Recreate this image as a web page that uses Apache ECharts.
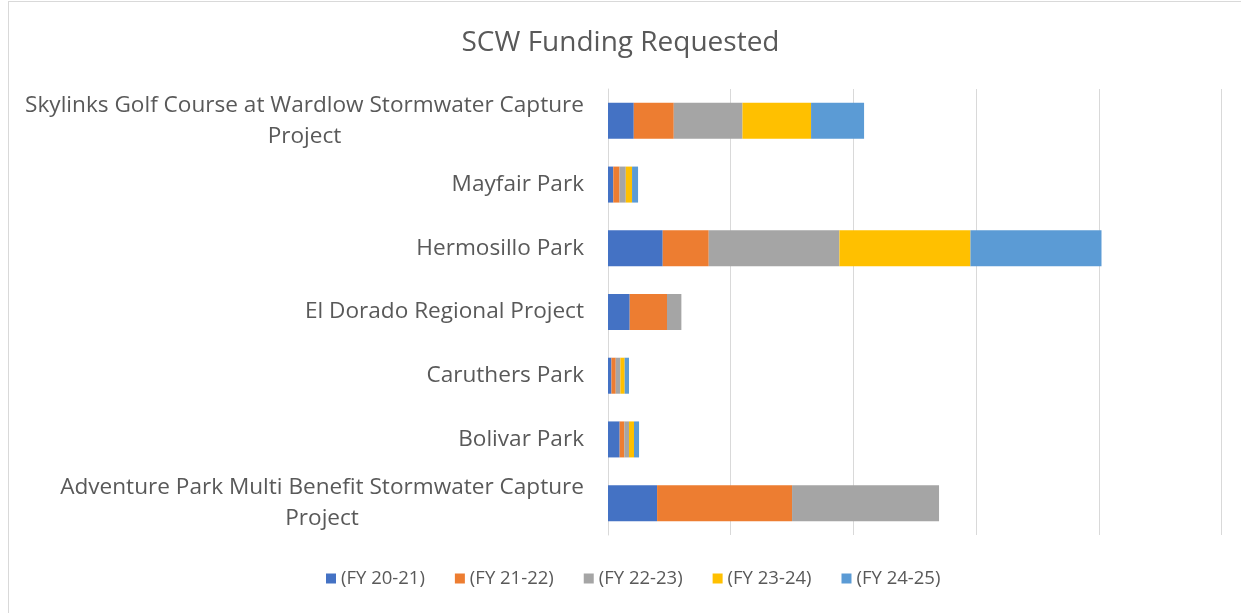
<!DOCTYPE html>
<html>
<head>
<meta charset="utf-8">
<script src="https://cdn.jsdelivr.net/npm/echarts@6/dist/echarts.min.js"></script>
<style>
html,body{margin:0;padding:0;background:#fff;}
#frame{position:absolute;left:8px;top:1px;right:0;bottom:0;border-left:1px solid #d9d9d9;border-top:1px solid #d9d9d9;}
#chart{position:absolute;left:0;top:0;width:1241px;height:613px;}
</style>
</head>
<body>
<div id="frame"></div>
<div id="chart"></div>
<script>
const categories = [
  'Adventure Park Multi Benefit Stormwater Capture Project',
  'Bolivar Park',
  'Caruthers Park',
  'El Dorado Regional Project',
  'Hermosillo Park',
  'Mayfair Park',
  'Skylinks Golf Course at Wardlow Stormwater Capture Project'
];
const seriesNames = ['(FY 20-21)', '(FY 21-22)', '(FY 22-23)', '(FY 23-24)', '(FY 24-25)'];
const fy2021 = [0.40, 0.095, 0.028, 0.177, 0.446, 0.043, 0.21];
const fy2122 = [1.10, 0.038, 0.035, 0.304, 0.375, 0.051, 0.326];
const fy2223 = [1.198, 0.038, 0.038, 0.117, 1.065, 0.051, 0.56];
const fy2324 = [0, 0.041, 0.035, 0, 1.068, 0.051, 0.559];
const fy2425 = [0, 0.041, 0.035, 0, 1.068, 0.049, 0.432];
const colors = ['#4472C4', '#ED7D31', '#A5A5A5', '#FFC000', '#5B9BD5'];

const allData = [fy2021, fy2122, fy2223, fy2324, fy2425];
const FONT = 'Open Sans';

const chart = echarts.init(document.getElementById('chart'));
chart.setOption({
  animation: false,
  textStyle: { fontFamily: FONT },
  title: {
    text: 'SCW Funding Requested',
    left: 'center',
    top: 24,
    textStyle: { fontFamily: FONT, fontSize: 28, fontWeight: 'normal', color: '#595959' }
  },
  legend: {
    bottom: 20,
    left: 321,
    itemWidth: 10,
    itemHeight: 10,
    itemGap: 30,
    icon: 'rect',
    textStyle: { fontFamily: FONT, fontSize: 18.5, color: '#595959' },
    data: seriesNames
  },
  grid: { left: 608, right: 19.5, top: 89, bottom: 78, containLabel: false },
  xAxis: {
    type: 'value',
    min: 0,
    max: 5,
    interval: 1,
    axisLabel: { show: false },
    axisLine: { show: false },
    axisTick: { show: false },
    splitLine: { show: true, lineStyle: { color: '#d9d9d9', width: 1 } }
  },
  yAxis: {
    type: 'category',
    data: categories,
    axisTick: { show: false },
    axisLine: { show: true, lineStyle: { color: '#d9d9d9' } },
    axisLabel: {
      margin: 24,
      formatter: function (v) {
        if (v.length > 40) {
          const i = v.lastIndexOf(' ');
          return '{c|' + v.slice(0, i) + '}\n{c|' + v.slice(i + 1) + '}';
        }
        return '{c|' + v + '}';
      },
      rich: {
        c: { fontFamily: FONT, fontSize: 22.6, color: '#595959', align: 'center', lineHeight: 31 }
      }
    }
  },
  series: seriesNames.map((n, k) => ({
    name: n,
    type: 'bar',
    stack: 'total',
    barWidth: 36,
    itemStyle: { color: colors[k] },
    data: allData[k]
  }))
});
</script>
</body>
</html>
